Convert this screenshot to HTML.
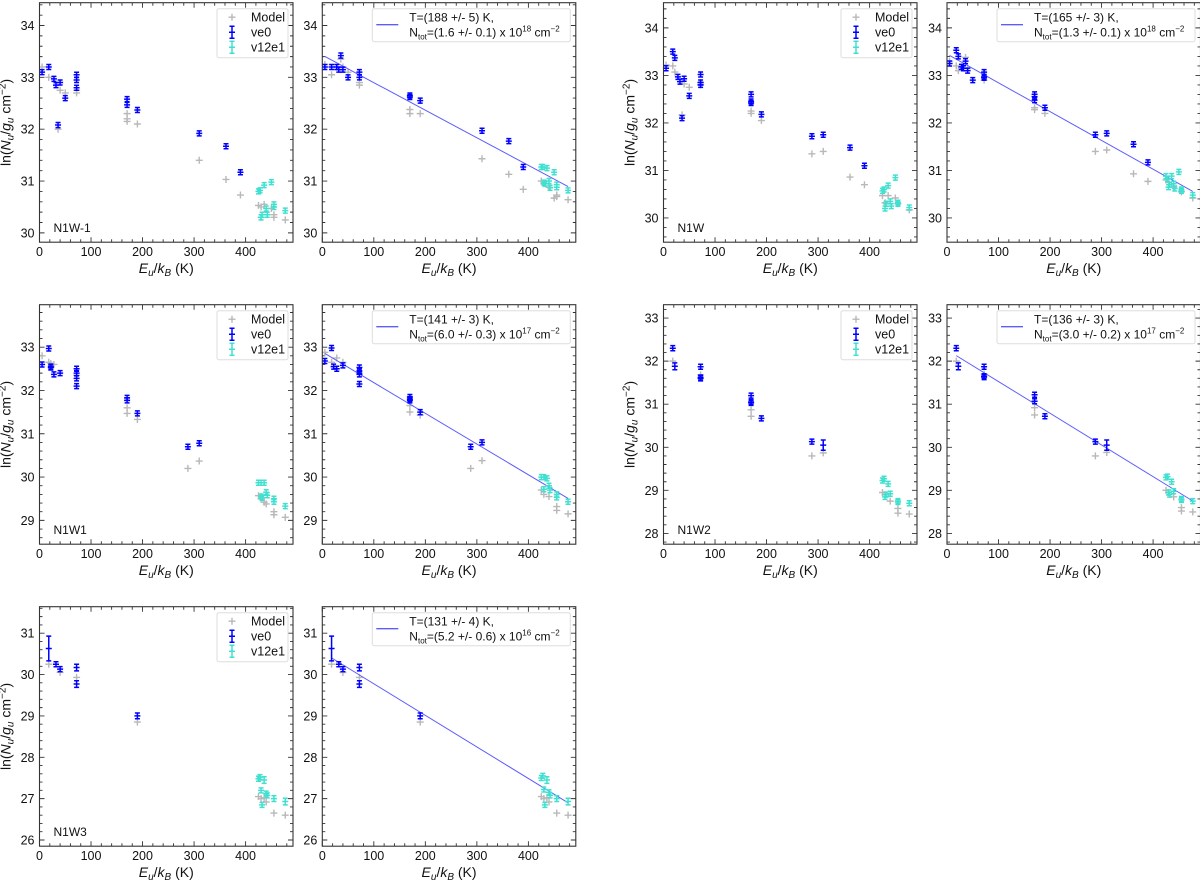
<!DOCTYPE html>
<html><head><meta charset="utf-8">
<style>
html,body{margin:0;padding:0;background:#fff;}
svg{display:block;font-family:"Liberation Sans","DejaVu Sans",sans-serif;}
</style></head>
<body>
<svg id="fig" width="1200" height="880" viewBox="0 0 1200 880" xmlns="http://www.w3.org/2000/svg"></svg>
<script>
// ---------------- data ----------------
const regionNames = ["N1W-1","N1W","N1W1","N1W2","N1W3"];
const fitT = [188,165,141,136,131];
const fitTErr = [5,3,3,3,4];
const fitN = ["1.6","1.3","6.0","3.0","5.2"];
const fitNErr = ["0.1","0.1","0.3","0.2","0.6"];
const fitNExp = ["18","18","17","17","16"];
const fitIntercept = [33.43,33.45,32.89,32.26,30.54];
const fitStart = [5,5,5,18,18];
const fitEnd = [477,477,477,477,477];
const yRanges = [[29.82,34.44],[29.49,34.53],[28.45,33.98],[27.75,33.31],[25.85,31.64]];
const yTicks = [[30,31,32,33,34],[30,31,32,33,34],[29,30,31,32,33],[28,29,30,31,32,33],[26,27,28,29,30,31]];
const xTicks = [0,100,200,300,400];
const xMax = 492;

// points: [E_u/k_B, ln(N/g), error]
const n1wm1_raw_ve0 = [[5,33.1,.04],[18,33.2,.04],[28,32.97,.04],[32,32.85,.04],[40,32.9,.04],[36,32.08,.05],[50,32.6,.04],[72,33.05,.04],[72,32.95,.04],[72,32.8,.04],[170,32.58,.04],[170,32.47,.04],[190,32.37,.04],[310,31.92,.04],[362,31.67,.04],[390,31.17,.04]];
const n1wm1_raw_v12 = [[425,30.8,.04],[428,30.82,.04],[436,30.92,.04],[450,30.98,.04],[430,30.3,.04],[432,30.35,.04],[440,30.47,.04],[442,30.35,.04],[455,30.5,.04],[455,30.55,.04],[477,30.43,.04]];
const n1wm1_raw_mod = [[5,33.2],[18,33.0],[36,32.0],[40,32.75],[50,32.7],[72,32.75],[72,32.7],[170,32.3],[170,32.2],[170,32.15],[190,32.1],[310,31.4],[362,31.03],[390,30.73],[425,30.53],[430,30.5],[436,30.55],[450,30.47],[455,30.35],[455,30.3],[477,30.25],[430,30.3]];
const n1wm1_fit_ve0 = [[5,33.2,.04],[18,33.2,.04],[28,33.2,.04],[32,33.15,.04],[36,33.42,.05],[40,33.15,.04],[50,33.0,.04],[72,33.1,.04],[72,33.0,.04],[170,32.65,.04],[170,32.62,.04],[190,32.55,.04],[310,31.97,.04],[362,31.77,.04],[390,31.27,.04]];
const n1wm1_fit_v12 = [[425,31.27,.04],[428,31.27,.04],[436,31.25,.04],[450,31.17,.04],[430,30.97,.04],[432,30.95,.04],[440,31.0,.04],[442,30.87,.04],[455,30.93,.04],[455,30.88,.04],[477,30.82,.04]];
const n1wm1_fit_mod = [[5,33.25],[18,33.05],[36,33.35],[40,33.2],[50,33.1],[72,32.9],[72,32.85],[170,32.38],[170,32.3],[190,32.3],[310,31.43],[362,31.13],[390,30.84],[425,31.0],[430,30.95],[440,30.88],[450,30.67],[455,30.73],[455,30.7],[477,30.64]];

const n1w_raw_ve0 = [[5,33.15,.04],[18,33.5,.04],[22,33.37,.04],[28,32.97,.04],[32,32.87,.04],[40,32.93,.04],[36,32.1,.05],[50,32.57,.04],[72,33.02,.04],[72,32.85,.04],[72,32.8,.04],[170,32.6,.04],[170,32.45,.04],[170,32.42,.04],[190,32.18,.04],[288,31.72,.04],[310,31.75,.04],[362,31.48,.04],[390,31.1,.04]];
const n1w_raw_v12 = [[425,30.57,.04],[428,30.6,.04],[436,30.68,.04],[450,30.85,.04],[430,30.2,.04],[432,30.3,.04],[440,30.35,.04],[442,30.25,.04],[455,30.32,.04],[455,30.3,.04],[477,30.22,.04]];
const n1w_raw_mod = [[5,33.22],[18,33.2],[22,33.07],[36,32.17],[40,32.82],[50,32.75],[72,32.85],[72,32.8],[170,32.25],[170,32.2],[190,32.05],[288,31.35],[310,31.4],[362,30.86],[390,30.7],[425,30.47],[430,30.32],[436,30.47],[450,30.42],[455,30.3],[477,30.17]];
const n1w_fit_ve0 = [[5,33.25,.04],[18,33.53,.04],[22,33.4,.04],[28,33.18,.04],[32,33.15,.04],[36,33.3,.05],[40,33.1,.04],[50,32.9,.04],[72,33.07,.04],[72,32.97,.04],[72,32.95,.04],[170,32.6,.04],[170,32.55,.04],[170,32.48,.04],[190,32.32,.04],[288,31.75,.04],[310,31.78,.04],[362,31.55,.04],[390,31.17,.04]];
const n1w_fit_v12 = [[425,30.88,.04],[428,30.82,.04],[436,30.88,.04],[450,30.97,.04],[430,30.65,.04],[432,30.7,.04],[440,30.72,.04],[442,30.62,.04],[455,30.57,.04],[455,30.6,.04],[477,30.48,.04]];
const n1w_fit_mod = [[5,33.3],[18,33.2],[22,33.1],[36,33.38],[40,33.15],[72,32.9],[170,32.32],[170,32.28],[190,32.2],[288,31.4],[310,31.43],[362,30.93],[390,30.77],[425,30.8],[430,30.75],[440,30.65],[455,30.55],[477,30.42]];

const n1w1_raw_ve0 = [[5,32.6,.04],[18,32.97,.04],[22,32.55,.04],[22,32.53,.04],[28,32.37,.04],[40,32.4,.04],[72,32.5,.04],[72,32.4,.04],[72,32.28,.04],[72,32.1,.04],[170,31.83,.04],[170,31.77,.04],[190,31.47,.04],[288,30.7,.04],[310,30.78,.05]];
const n1w1_raw_v12 = [[425,29.87,.04],[430,29.87,.04],[436,29.87,.04],[430,29.55,.04],[432,29.52,.04],[440,29.65,.04],[442,29.58,.04],[455,29.5,.04],[455,29.43,.04],[477,29.33,.04]];
const n1w1_raw_mod = [[5,32.8],[18,32.65],[22,32.62],[28,32.6],[72,32.35],[170,31.6],[170,31.47],[190,31.33],[288,30.2],[310,30.37],[425,29.57],[430,29.5],[436,29.42],[440,29.38],[455,29.2],[455,29.13],[477,29.07]];
const n1w1_fit_ve0 = [[5,32.68,.04],[18,32.98,.04],[22,32.55,.04],[28,32.5,.04],[40,32.58,.04],[72,32.53,.04],[72,32.45,.04],[72,32.37,.04],[72,32.15,.04],[170,31.85,.04],[170,31.8,.04],[170,31.77,.04],[190,31.5,.04],[288,30.7,.04],[310,30.8,.05]];
const n1w1_fit_v12 = [[425,30.0,.04],[430,30.0,.04],[436,29.97,.04],[440,29.8,.04],[430,29.72,.04],[442,29.7,.04],[455,29.6,.04],[455,29.53,.04],[477,29.43,.04]];
const n1w1_fit_mod = [[5,32.88],[18,32.65],[28,32.75],[40,32.65],[72,32.4],[170,31.65],[170,31.5],[190,31.43],[288,30.2],[310,30.38],[425,29.7],[430,29.6],[440,29.55],[455,29.32],[455,29.23],[477,29.15]];

const n1w2_raw_ve0 = [[18,32.3,.06],[22,31.88,.08],[72,31.87,.04],[72,31.62,.04],[72,31.6,.04],[170,31.2,.04],[170,31.05,.04],[170,31.03,.04],[190,30.67,.04],[288,30.13,.04],[310,30.05,.12]];
const n1w2_raw_v12 = [[425,29.23,.04],[428,29.27,.04],[436,29.15,.04],[430,28.85,.05],[432,28.9,.04],[440,28.92,.04],[455,28.75,.04],[455,28.73,.04],[477,28.7,.04]];
const n1w2_raw_mod = [[18,32.0],[72,31.68],[170,30.87],[170,30.72],[288,29.8],[310,29.87],[425,28.95],[430,28.9],[440,28.75],[455,28.58],[455,28.47],[477,28.45]];
const n1w2_fit_ve0 = [[18,32.3,.06],[22,31.88,.08],[72,31.87,.04],[72,31.65,.04],[72,31.63,.04],[170,31.22,.04],[170,31.07,.04],[190,30.72,.04],[288,30.13,.04],[310,30.05,.12]];
const n1w2_fit_v12 = [[425,29.3,.04],[428,29.32,.04],[436,29.2,.04],[430,28.95,.04],[432,28.9,.04],[440,28.98,.04],[455,28.8,.04],[455,28.78,.04],[477,28.75,.04]];
const n1w2_fit_mod = [[18,32.0],[72,31.7],[170,30.92],[170,30.75],[288,29.8],[310,29.88],[425,29.0],[430,28.95],[440,28.85],[455,28.6],[455,28.52],[477,28.5]];

const n1w3_raw_ve0 = [[18,30.63,.3],[32,30.25,.04],[40,30.13,.04],[72,30.17,.08],[72,29.77,.08],[190,29.0,.07]];
const n1w3_raw_v12 = [[425,27.48,.05],[428,27.52,.05],[436,27.45,.08],[430,27.2,.04],[432,26.85,.05],[440,27.12,.05],[442,27.08,.04],[455,27.0,.07],[477,26.93,.08]];
const n1w3_raw_mod = [[18,30.25],[40,30.05],[72,29.93],[190,28.85],[425,27.05],[430,27.0],[436,27.02],[440,26.92],[455,26.65],[477,26.6]];
const n1w3_fit_ve0 = [[18,30.63,.3],[32,30.25,.04],[40,30.13,.04],[72,30.17,.08],[72,29.77,.08],[190,29.0,.07]];
const n1w3_fit_v12 = [[425,27.5,.05],[428,27.55,.05],[436,27.45,.08],[430,27.22,.04],[432,26.85,.05],[440,27.15,.05],[442,27.08,.04],[455,27.0,.07],[477,26.93,.08]];
const n1w3_fit_mod = [[18,30.25],[40,30.05],[72,29.93],[190,28.85],[425,27.05],[430,27.0],[436,27.02],[440,26.92],[455,26.65],[477,26.6]];

const rawSets = [[n1wm1_raw_ve0,n1wm1_raw_v12,n1wm1_raw_mod],[n1w_raw_ve0,n1w_raw_v12,n1w_raw_mod],[n1w1_raw_ve0,n1w1_raw_v12,n1w1_raw_mod],[n1w2_raw_ve0,n1w2_raw_v12,n1w2_raw_mod],[n1w3_raw_ve0,n1w3_raw_v12,n1w3_raw_mod]];
const fitSets = [[n1wm1_fit_ve0,n1wm1_fit_v12,n1wm1_fit_mod],[n1w_fit_ve0,n1w_fit_v12,n1w_fit_mod],[n1w1_fit_ve0,n1w1_fit_v12,n1w1_fit_mod],[n1w2_fit_ve0,n1w2_fit_v12,n1w2_fit_mod],[n1w3_fit_ve0,n1w3_fit_v12,n1w3_fit_mod]];

// ---------------- layout ----------------
const rowTop = [2.7,304.7,606.7];
const panelH = 239.5;
const colLeft = [[39.5,322.3],[663.5,947]];
const panelW = 253.5;
const C_VE0 = "#0000ff", C_V12 = "#40e0d0", C_MOD = "#b8b8b8", C_FIT = "#5c5cff";

const NS = "http://www.w3.org/2000/svg";
const fig = document.getElementById("fig");
function mk(tag, attrs, parent){
  const e = document.createElementNS(NS, tag);
  for (const k in attrs) e.setAttribute(k, attrs[k]);
  (parent||fig).appendChild(e);
  return e;
}

function plus(g, x, y, color, name){
  const p = mk("path", {d:`M${x-3.5},${y}H${x+3.5}M${x},${y-3.5}V${y+3.5}`, stroke:color, "stroke-width":1.4, fill:"none"}, g);
  
  
}
function errPt(g, x, y, yTop, yBot, color, name){
  const grp = mk("g", {}, g);
  
  
  const t = Math.min(yTop, y-2.5), b = Math.max(yBot, y+2.5);
  mk("path", {d:`M${x},${t}V${b}M${x-2.5},${t}H${x+2.5}M${x-2.5},${b}H${x+2.5}M${x-3},${y}H${x+3}`, stroke:color, "stroke-width":1.5, fill:"none"}, grp);
}

function drawPanel(ri, isFit){
  const row = ri===4 ? 2 : (ri<2 ? 0 : 1);
  const col = (ri===1 || ri===3) ? 1 : 0;
  const L = colLeft[col][isFit?1:0], T = rowTop[row], W = panelW, H = panelH;
  const [y0,y1] = yRanges[ri];
  const sx = v => L + v / xMax * W;
  const sy = v => T + H - (v - y0) / (y1 - y0) * H;

  const g = mk("g", {});
  
  

  // clip
  const cid = "clip"+ri+(isFit?"f":"r");
  const cp = mk("clipPath", {id:cid}, g);
  mk("rect", {x:L, y:T, width:W, height:H}, cp);

  // ticks
  const tk = mk("g", {stroke:"#333", "stroke-width":0.9}, g);
  
  
  let d = "";
  for (let v=0; v<=xMax; v+=20){
    const x = sx(v), len = (v%100===0)?5:3;
    d += `M${x},${T+H}v${-len}M${x},${T}v${len}`;
  }
  const ys = Math.ceil(y0*5)/5;
  for (let v=ys; v<=y1+1e-9; v+=0.2){
    const y = sy(v), maj = Math.abs(v-Math.round(v))<1e-6, len = maj?5:3;
    d += `M${L},${y}h${len}M${L+W},${y}h${-len}`;
  }
  mk("path", {d:d, fill:"none"}, tk);

  // x tick labels
  const xl = mk("g", {"font-size":12.5, fill:"#111", "text-anchor":"middle"}, g);
  
  
  xTicks.forEach(v => { const t = mk("text", {x:sx(v), y:T+H+14}, xl); t.textContent = v; });
  const yl = mk("g", {"font-size":12.5, fill:"#111", "text-anchor":"end"}, g);
  
  
  yTicks[ri].forEach(v => { const t = mk("text", {x:L-5, y:sy(v)+4.5}, yl); t.textContent = v; });

  // x title
  const xt = mk("text", {x:L+W/2, y:T+H+31, "font-size":14, "text-anchor":"middle", fill:"#111"}, g);
  
  
  xt.innerHTML = '<tspan font-style="italic">E</tspan><tspan font-style="italic" font-size="10" dy="3">u</tspan><tspan dy="-3">/</tspan><tspan font-style="italic">k</tspan><tspan font-style="italic" font-size="10" dy="3">B</tspan><tspan dy="-3"> (K)</tspan>';

  if (!isFit){
    const cx = L - 29, cy = T + H/2;
    const yt = mk("text", {x:cx, y:cy, "font-size":14, "text-anchor":"middle", fill:"#111", transform:`rotate(-90 ${cx} ${cy})`}, g);
    
    
    yt.innerHTML = 'ln(<tspan font-style="italic">N</tspan><tspan font-style="italic" font-size="10" dy="3">u</tspan><tspan dy="-3">/</tspan><tspan font-style="italic">g</tspan><tspan font-style="italic" font-size="10" dy="3">u</tspan><tspan dy="-3"> cm</tspan><tspan font-size="10" dy="-5">−2</tspan><tspan dy="5">)</tspan>';
    const rl = mk("text", {x:L+14, y:T+H-10, "font-size":12, fill:"#111"}, g);
    
    
    rl.textContent = regionNames[ri];
  }

  const sets = isFit ? fitSets[ri] : rawSets[ri];
  const pg = mk("g", {"clip-path":`url(#${cid})`}, g);
  
  
  sets[2].forEach(p => plus(pg, sx(p[0]), sy(p[1]), C_MOD, 'model-point'));
  if (isFit){
    const a = fitIntercept[ri], Tt = fitT[ri];
    const ln = mk("line", {x1:sx(fitStart[ri]), y1:sy(a - fitStart[ri]/Tt), x2:sx(fitEnd[ri]), y2:sy(a - fitEnd[ri]/Tt), stroke:C_FIT, "stroke-width":1}, pg);
    
    
  }
  sets[0].forEach(p => errPt(pg, sx(p[0]), sy(p[1]), sy(p[1]+p[2]), sy(p[1]-p[2]), C_VE0, 've0-point'));
  sets[1].forEach(p => errPt(pg, sx(p[0]), sy(p[1]), sy(p[1]+p[2]), sy(p[1]-p[2]), C_V12, 'v12e1-point'));

  // frame
  const fr = mk("rect", {x:L, y:T, width:W, height:H, fill:"none", stroke:"#333", "stroke-width":1.1}, g);
  
  

  // legend
  const lg = mk("g", {}, g);
  
  
  if (!isFit){
    const bx = L+W-76, by = T+6;
    mk("rect", {x:bx, y:by, width:71, height:49, fill:"#fff", stroke:"#ddd", "stroke-width":1, rx:2}, lg);
    const labels = ["Model","ve0","v12e1"], cols=[C_MOD,C_VE0,C_V12];
    labels.forEach((s,i) => {
      const e = mk("g", {}, lg);
      
      
      const yy = by + 8.5 + i*15;
      if (i===0) plus(e, bx+15, yy, cols[i], 'legend-marker');
      else errPt(e, bx+15, yy, yy-6, yy+6, cols[i], 'legend-marker');
      const t = mk("text", {x:bx+34, y:yy+4.5, "font-size":12.5, fill:"#111"}, e);
      t.textContent = s;
    });
  } else {
    const bx = L+50, by = T+6;
    mk("rect", {x:bx, y:by, width:198, height:33, fill:"#fff", stroke:"#ddd", "stroke-width":1, rx:2}, lg);
    const sw = mk("line", {x1:bx+4, y1:by+16, x2:bx+26, y2:by+16, stroke:C_FIT, "stroke-width":1.3}, lg);
    
    
    const t1 = mk("text", {x:bx+37, y:by+13, "font-size":12, fill:"#111"}, lg);
    
    
    t1.textContent = `T=(${fitT[ri]} +/- ${fitTErr[ri]}) K,`;
    const t2 = mk("text", {x:bx+37, y:by+28, "font-size":12, fill:"#111"}, lg);
    
    
    t2.innerHTML = `N<tspan font-size="8" dy="3">tot</tspan><tspan dy="-3">=(${fitN[ri]} +/- ${fitNErr[ri]}) x 10</tspan><tspan font-size="8" dy="-5">${fitNExp[ri]}</tspan><tspan dy="5"> cm</tspan><tspan font-size="8" dy="-5">−2</tspan>`;
  }
}

for (let i=0;i<5;i++){ drawPanel(i,false); drawPanel(i,true); }
</script>
</body></html>
